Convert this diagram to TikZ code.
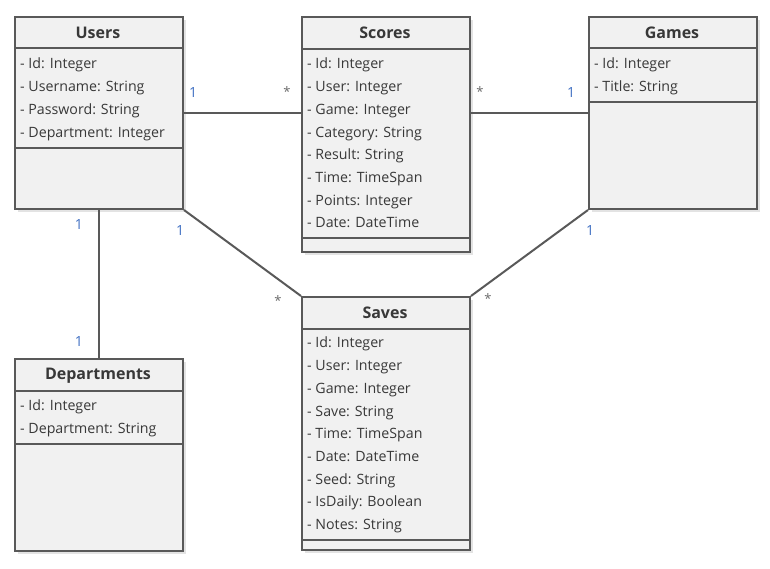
\documentclass[tikz,border=0pt]{standalone}
\usepackage{fontspec}
\setmainfont{Open Sans}
\usepackage{tikz}
\usetikzlibrary{shadows}

\definecolor{boxline}{HTML}{595959}
\definecolor{boxfill}{HTML}{F1F1F1}
\definecolor{textcol}{HTML}{383838}
\definecolor{oneblue}{HTML}{3F6FC2}
\definecolor{manygray}{HTML}{6A6A6A}

\begin{document}
\begin{tikzpicture}[
        x=1pt, y=-1pt,
        classbox/.style={
            draw=boxline,
            fill=boxfill,
            line width=2pt,
            minimum width=168pt,
            anchor=north west,
            inner sep=0pt,
            drop shadow={opacity=0.22, shadow xshift=3pt, shadow yshift=-3pt}
        },
        title/.style={
            font=\bfseries\fontsize{16}{19}\selectfont,
            text=textcol
        },
        attr/.style={
            font=\fontsize{14.2}{22.7}\selectfont,
            text=textcol,
            align=left,
            anchor=north west,
            inner sep=0pt
        },
        divider/.style={
            draw=boxline,
            line width=2pt
        },
        link/.style={
            draw=boxline,
            line width=2pt
        },
        one/.style={
            font=\fontsize{14}{16}\selectfont,
            text=oneblue
        },
        many/.style={
            font=\fontsize{13}{15}\selectfont,
            text=manygray
        }
    ]
        \useasboundingbox (0,0) rectangle (770,568);

        % Users
        \node[classbox, minimum height=192pt] (users) at (14,16) {};
        \node[title] (users title) at (98,33) {Users};
        \draw[divider] (14,48) -- (182,48);
        \node[attr] (users attrs) at (20,58) {
            - Id: Integer\\
            - Username: String\\
            - Password: String\\
            - Department: Integer
        };
        \draw[divider] (14,148) -- (182,148);

        % Scores
        \node[classbox, minimum height=235pt] (scores) at (301,16) {};
        \node[title] (scores title) at (385,33) {Scores};
        \draw[divider] (301,49) -- (469,49);
        \node[attr] (scores attrs) at (307,58) {
            - Id: Integer\\
            - User: Integer\\
            - Game: Integer\\
            - Category: String\\
            - Result: String\\
            - Time: TimeSpan\\
            - Points: Integer\\
            - Date: DateTime
        };
        \draw[divider] (301,238) -- (469,238);

        % Games
        \node[classbox, minimum height=192pt] (games) at (588,16) {};
        \node[title] (games title) at (672,33) {Games};
        \draw[divider] (588,48) -- (756,48);
        \node[attr] (games attrs) at (594,58) {
            - Id: Integer\\
            - Title: String
        };
        \draw[divider] (588,102) -- (756,102);

        % Departments
        \node[classbox, minimum height=192pt] (departments) at (14,358) {};
        \node[title] (departments title) at (98,376) {Departments};
        \draw[divider] (14,391) -- (182,391);
        \node[attr] (departments attrs) at (20,400) {
            - Id: Integer\\
            - Department: String
        };
        \draw[divider] (14,444) -- (182,444);

        % Saves
        \node[classbox, minimum height=253pt] (saves) at (301,296) {};
        \node[title] (saves title) at (385,313) {Saves};
        \draw[divider] (301,329) -- (469,329);
        \node[attr] (saves attrs) at (307,337) {
            - Id: Integer\\
            - User: Integer\\
            - Game: Integer\\
            - Save: String\\
            - Time: TimeSpan\\
            - Date: DateTime\\
            - Seed: String\\
            - IsDaily: Boolean\\
            - Notes: String
        };
        \draw[divider] (301,540) -- (469,540);

        % Associations
        \draw[link] (users.east) -- (users.east -| scores.west);
        \draw[link] (games.west -| scores.east) -- (games.west);
        \draw[link] (users.south) -- (departments.north);
        \draw[link] (users.south east) -- (saves.north west);
        \draw[link] (games.south west) -- (saves.north east);

        % Multiplicities
        \node[one] at (193,92) {1};
        \node[many] at (287,92) {*};
        \node[many] at (480,92) {*};
        \node[one] at (571,92) {1};
        \node[one] at (79,224) {1};
        \node[one] at (79,341) {1};
        \node[one] at (180,230) {1};
        \node[many] at (278,301) {*};
        \node[one] at (590,230) {1};
        \node[many] at (488,299) {*};

    \end{tikzpicture}
\end{document}
